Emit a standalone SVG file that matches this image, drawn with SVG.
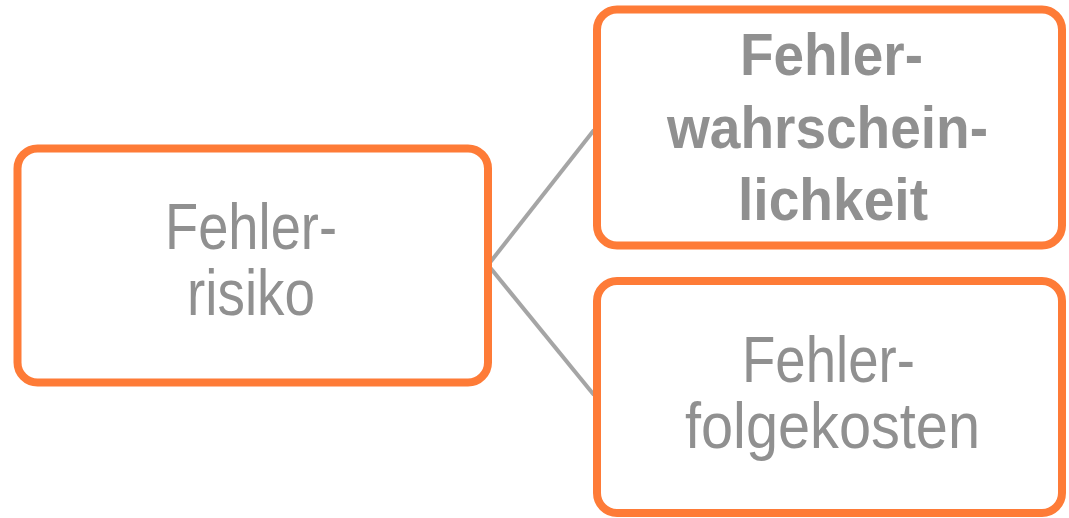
<svg xmlns="http://www.w3.org/2000/svg" width="1069" height="518" viewBox="0 0 1069 518">
<style>
.box{fill:#ffffff;stroke:#fe7b37;stroke-width:8}
.conn{stroke:#a5a5a5;stroke-width:4;fill:none}
.t{font-family:"Liberation Sans",Arial,sans-serif;fill:#909090;text-anchor:middle;font-size:65px}
.b{font-weight:bold;font-size:59px}
</style>
<rect width="1069" height="518" fill="#ffffff"/>
<g id="connectors">
<line class="conn" x1="488" y1="265" x2="594" y2="130"/>
<line class="conn" x1="488" y1="265" x2="594" y2="395"/>
</g>
<g id="node-risiko">
<rect class="box" x="17.5" y="148.5" width="470.5" height="234" rx="20"/>
<text class="t" x="251" y="249" textLength="172" lengthAdjust="spacingAndGlyphs">Fehler-</text>
<text class="t" x="251" y="315" textLength="128" lengthAdjust="spacingAndGlyphs">risiko</text>
</g>
<g id="node-wahrscheinlichkeit">
<rect class="box" x="597" y="9.5" width="465" height="236" rx="20"/>
<text class="t b" x="831.5" y="75" textLength="183" lengthAdjust="spacingAndGlyphs">Fehler-</text>
<text class="t b" x="827.5" y="148" textLength="321" lengthAdjust="spacingAndGlyphs">wahrschein-</text>
<text class="t b" x="833" y="220" textLength="190" lengthAdjust="spacingAndGlyphs">lichkeit</text>
</g>
<g id="node-folgekosten">
<rect class="box" x="597" y="281" width="465" height="232" rx="20"/>
<text class="t" x="828.5" y="382" textLength="173" lengthAdjust="spacingAndGlyphs">Fehler-</text>
<text class="t" x="832.5" y="448" textLength="295" lengthAdjust="spacingAndGlyphs">folgekosten</text>
</g>
</svg>
